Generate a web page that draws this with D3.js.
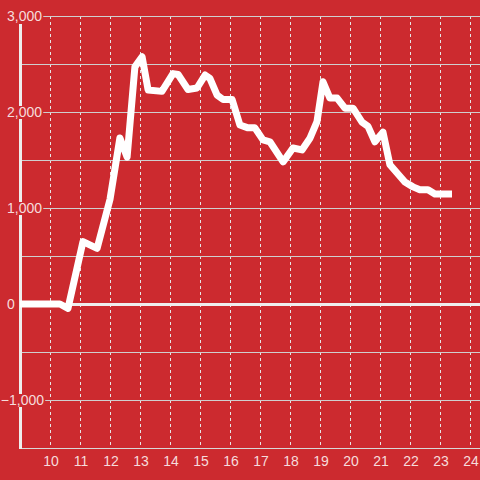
<!DOCTYPE html>
<html>
<head>
<meta charset="utf-8">
<script src="https://cdn.jsdelivr.net/npm/d3@7"></script>
<style>
html,body{margin:0;padding:0;background:#cc2a2f;}
svg{display:block;}
text{font-family:"Liberation Sans",Arial,sans-serif;}
</style>
</head>
<body>
<svg id="chart" width="480" height="480"></svg>
<script>
// Data (hour of day, value)
const hours = [9.0, 10.33, 10.6, 11.1, 11.57, 12.0, 12.33, 12.57, 12.83, 13.07, 13.27, 13.73, 14.1, 14.27, 14.6, 14.9, 15.17, 15.33, 15.57, 15.77, 16.07, 16.33, 16.6, 16.83, 17.1, 17.33, 17.77, 18.1, 18.4, 18.67, 18.9, 19.1, 19.33, 19.57, 19.83, 20.1, 20.4, 20.6, 20.83, 21.1, 21.33, 21.57, 21.83, 22.1, 22.33, 22.6, 22.83, 23.4];
const values = [0, 0, -45, 650, 580, 1090, 1730, 1530, 2470, 2575, 2230, 2215, 2400, 2390, 2235, 2250, 2385, 2350, 2175, 2130, 2130, 1865, 1835, 1835, 1710, 1690, 1480, 1625, 1605, 1730, 1900, 2315, 2145, 2145, 2040, 2040, 1895, 1850, 1690, 1790, 1450, 1365, 1270, 1220, 1190, 1190, 1145, 1145];
const xTicks = [10, 11, 12, 13, 14, 15, 16, 17, 18, 19, 20, 21, 22, 23, 24];
const yTicks = [3000, 2000, 1000, 0, -1000];
const yGrid = [3000, 2500, 2000, 1500, 1000, 500, -500, -1000];

const W = 480, H = 480;
const bg = "#cc2a2f";
const svg = d3.select("#chart");
svg.append("rect").attr("width", W).attr("height", H).attr("fill", bg);

const x = d3.scaleLinear().domain([9, 24]).range([20, 470]);
const y = d3.scaleLinear().domain([-1500, 3000]).range([448, 16]);

// vertical dotted grid
svg.append("g").selectAll("line").data(xTicks).join("line")
  .attr("x1", d => x(d) + 0.5).attr("x2", d => x(d) + 0.5)
  .attr("y1", y(3000)).attr("y2", y(-1500))
  .attr("stroke", "#e6e6e6").attr("stroke-width", 1)
  .attr("stroke-dasharray", "3,3");

// horizontal grid
svg.append("g").selectAll("line").data(yGrid).join("line")
  .attr("x1", 20).attr("x2", W)
  .attr("y1", d => Math.round(y(d)) + 0.5).attr("y2", d => Math.round(y(d)) + 0.5)
  .attr("stroke", "#cfcfcf").attr("stroke-width", 1);

// bottom axis line
svg.append("line").attr("x1", 20).attr("x2", W)
  .attr("y1", y(-1500) + 0.5).attr("y2", y(-1500) + 0.5)
  .attr("stroke", "#d8d8d8").attr("stroke-width", 1);

// y axis line
svg.append("line").attr("x1", 20.5).attr("x2", 20.5)
  .attr("y1", 24).attr("y2", y(-1500) + 1)
  .attr("stroke", "#eeeeee").attr("stroke-width", 3);

// zero line
svg.append("line").attr("x1", 19).attr("x2", W)
  .attr("y1", y(0) + 0.5).attr("y2", y(0) + 0.5)
  .attr("stroke", "#eeeeee").attr("stroke-width", 3);

// data line
const line = d3.line().x((d, i) => x(hours[i])).y(d => y(d));
svg.append("path").datum(values)
  .attr("d", line)
  .attr("fill", "none")
  .attr("stroke", "#ffffff")
  .attr("stroke-width", 7)
  .attr("stroke-linejoin", "round");

// y labels with background
const fmt = d3.format(",");
const yl = svg.append("g").selectAll("g").data(yTicks).join("g");
yl.each(function(d) {
  const g = d3.select(this);
  const t = g.append("text")
    .attr("y", y(d) + 5)
    .attr("font-size", 14)
    .attr("fill", "#f6dcdc")
    .text(fmt(d));
  if (d < 0) { t.attr("x", 44).attr("text-anchor", "end"); }
  else { t.attr("x", 7).attr("text-anchor", "start"); }
  const b = t.node().getBBox();
  g.insert("rect", "text")
    .attr("x", b.x - 2).attr("y", y(d) - 6)
    .attr("width", b.width + 3).attr("height", 13)
    .attr("fill", bg);
});

// x labels
svg.append("g").selectAll("text").data(xTicks).join("text")
  .attr("x", d => x(d) + 1).attr("y", 466)
  .attr("text-anchor", "middle")
  .attr("font-size", 14)
  .attr("fill", "#f6dcdc")
  .text(d => d);
</script>
</body>
</html>
